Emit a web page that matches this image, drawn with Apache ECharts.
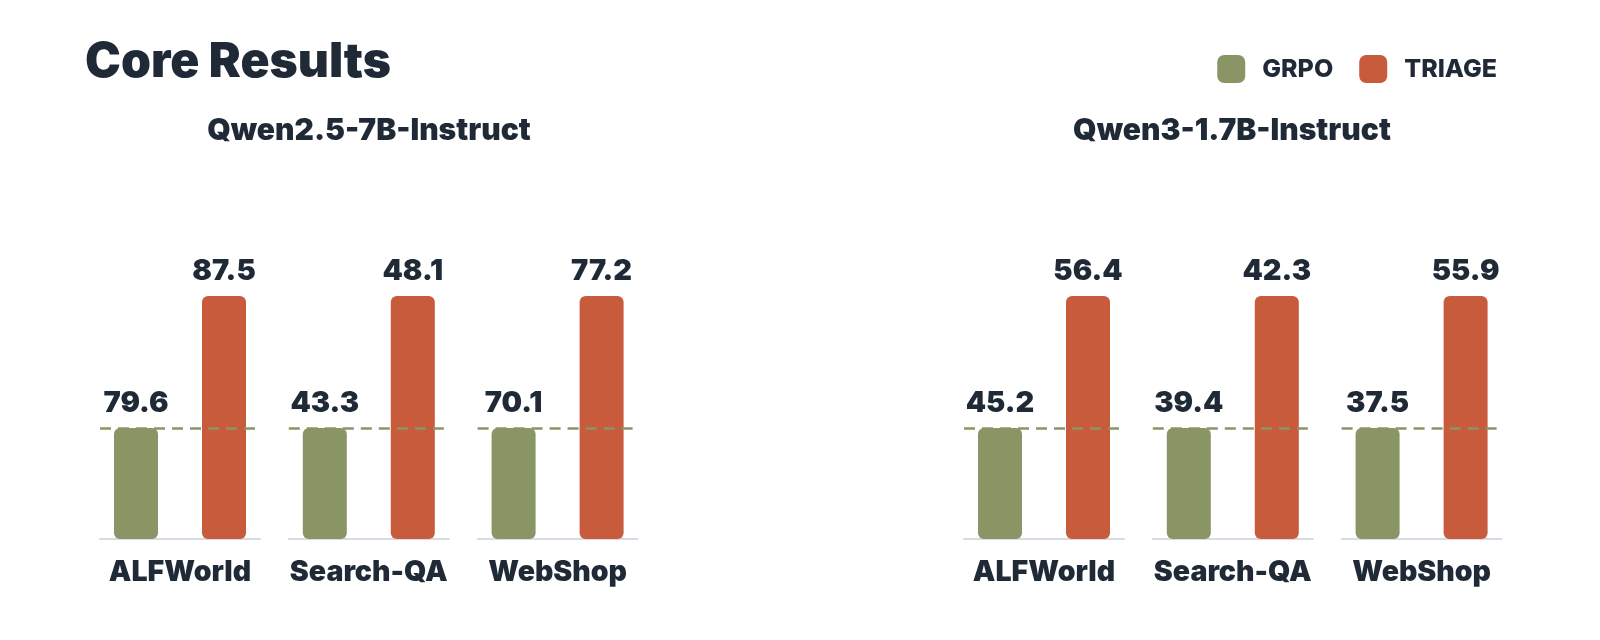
<!DOCTYPE html>
<html>
<head>
<meta charset="utf-8">
<script src="https://cdn.jsdelivr.net/npm/echarts@6/dist/echarts.min.js"></script>
<style>
  html, body { margin: 0; padding: 0; background: #fff; }
  #chart { width: 1600px; height: 640px; }
</style>
</head>
<body>
<div id="chart"></div>
<script>
// data
const categories = ['ALFWorld', 'Search-QA', 'WebShop']
const models = ['Qwen2.5-7B-Instruct', 'Qwen3-1.7B-Instruct']
const grpoQwen25 = [79.6, 43.3, 70.1]
const triageQwen25 = [87.5, 48.1, 77.2]
const grpoQwen3 = [45.2, 39.4, 37.5]
const triageQwen3 = [56.4, 42.3, 55.9]

const grpoByModel = [grpoQwen25, grpoQwen3]
const triageByModel = [triageQwen25, triageQwen3]

// styles / layout
const GREEN = '#8a9566'
const RED = '#c75b3c'
const INK = '#1f2a36'
const FONT = 'Inter'
const panelLefts = [100, 964]
const subtitleX = [369, 1232]
const groupStep = 188.8
const groupWidth = 160
const barW = 44
const gridTop = 296
const gridBottom = 101
// GRPO bar height relative to TRIAGE bar height in every group
const baseRatio = 111 / 243

const chart = echarts.init(document.getElementById('chart'))

const grids = []
const xAxes = []
const yAxes = []
const series = []

const valueLabel = {
  show: true,
  position: 'top',
  distance: 10,
  color: INK,
  fontFamily: FONT,
  fontWeight: 900,
  fontSize: 29,
  formatter: (p) => p.value.toFixed(1),
}

models.forEach((model, m) => {
  categories.forEach((cat, c) => {
    const idx = m * categories.length + c
    const g = grpoByModel[m][c]
    const t = triageByModel[m][c]

    grids.push({
      left: panelLefts[m] + c * groupStep,
      width: groupWidth,
      top: gridTop,
      bottom: gridBottom,
    })
    xAxes.push({
      type: 'category',
      gridIndex: idx,
      data: [cat],
      axisLine: { lineStyle: { color: '#d5dce8', width: 2 } },
      axisTick: { show: false },
      axisLabel: {
        margin: 19,
        color: INK,
        fontFamily: FONT,
        fontWeight: 900,
        fontSize: 28.5,
      },
    })
    yAxes.push({
      type: 'value',
      gridIndex: idx,
      show: false,
      min: (g - baseRatio * t) / (1 - baseRatio),
      max: t,
    })
    series.push({
      name: 'GRPO',
      type: 'bar',
      xAxisIndex: idx,
      yAxisIndex: idx,
      data: [g],
      barWidth: barW,
      barGap: '100%',
      z: 1,
      itemStyle: { color: GREEN, borderRadius: 6 },
      label: valueLabel,
      markLine: {
        silent: true,
        symbol: 'none',
        label: { show: false },
        lineStyle: { color: GREEN, type: [11, 7], width: 2.5 },
        data: [{ yAxis: g }],
      },
    })
    series.push({
      name: 'TRIAGE',
      type: 'bar',
      xAxisIndex: idx,
      yAxisIndex: idx,
      data: [t],
      barWidth: barW,
      barGap: '100%',
      z: 3,
      itemStyle: { color: RED, borderRadius: 6 },
      label: valueLabel,
    })
  })
})

const option = {
  backgroundColor: '#fff',
  animation: false,
  title: {
    text: 'Core Results',
    left: 80,
    top: 34,
    textStyle: { color: INK, fontFamily: FONT, fontWeight: 900, fontSize: 48 },
  },
  legend: {
    data: ['GRPO', 'TRIAGE'],
    right: 98,
    top: 50,
    icon: 'roundRect',
    itemWidth: 28,
    itemHeight: 28,
    itemGap: 26,
    textStyle: {
      color: INK,
      fontFamily: FONT,
      fontWeight: 800,
      fontSize: 25,
      padding: [0, 0, 0, 12],
    },
  },
  graphic: models.map((model, m) => ({
    type: 'text',
    x: subtitleX[m],
    y: 131,
    style: {
      text: model,
      fill: INK,
      font: `900 30px ${FONT}`,
      textAlign: 'center',
      textVerticalAlign: 'middle',
    },
  })),
  grid: grids,
  xAxis: xAxes,
  yAxis: yAxes,
  series,
}

chart.setOption(option)
</script>
</body>
</html>
